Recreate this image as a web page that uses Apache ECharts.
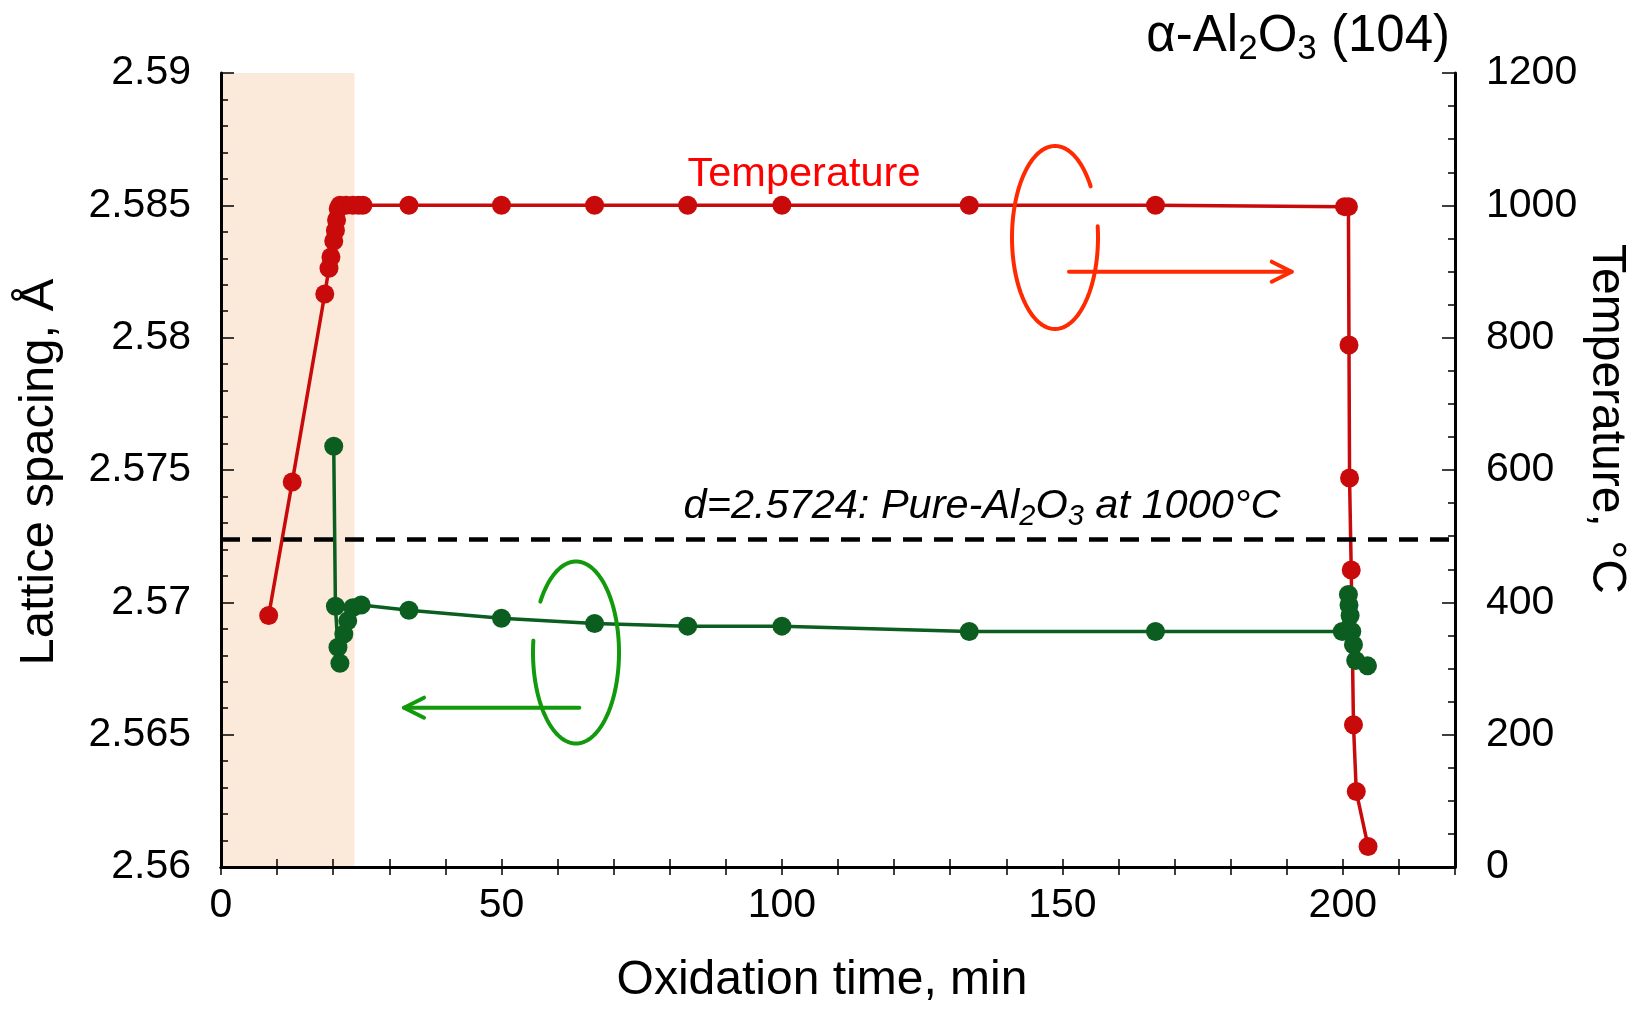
<!DOCTYPE html>
<html>
<head>
<meta charset="utf-8">
<script src="https://cdn.jsdelivr.net/npm/echarts@6/dist/echarts.min.js"></script>
<style>
html,body{margin:0;padding:0;background:#fff;overflow:hidden;}
#chart{width:1637px;height:1009px;}
</style>
</head>
<body>
<div id="chart"></div>
<script>
// ---------- data ----------
const tempTime = [8.5, 12.7, 18.5, 19.25, 19.6, 20.1, 20.4, 20.6, 20.9, 21.2, 22.3, 23.5, 24.5, 25.3, 33.5, 50, 66.6, 83.2, 100, 133.4, 166.6, 200.3, 201.0, 201.1, 201.2, 201.5, 201.9, 202.4, 204.5];
const tempValues = [380, 582, 866, 905, 922, 946, 962, 978, 995, 1000, 1000, 1000, 1000, 1000, 1000, 1000, 1000, 1000, 1000, 1000, 1000, 998, 998, 789, 588, 449, 215, 114, 31];

const latticeTime = [20.1, 20.4, 20.85, 21.2, 21.9, 22.6, 23.5, 25.0, 33.5, 50, 66.6, 83.2, 100, 133.4, 166.6, 199.9, 201.0, 201.1, 201.3, 201.6, 201.9, 202.3, 204.4];
const latticeValues = [2.5759, 2.56985, 2.5683, 2.5677, 2.5688, 2.5693, 2.5698, 2.5699, 2.5697, 2.5694, 2.5692, 2.5691, 2.5691, 2.5689, 2.5689, 2.5689, 2.5703, 2.5699, 2.5695, 2.5689, 2.5684, 2.5678, 2.5676];

const pureAl2O3Spacing = 2.5724;
const shadedRange = [0, 23.8];

const xTickLabels = [0, 50, 100, 150, 200];

// ---------- styling ----------
const FONT = "'Liberation Sans', Arial, Helvetica, sans-serif";
const RED = '#c80a0a';
const GREEN = '#0b5e1f';
const ANN_RED = '#ff2a00';
const ANN_GREEN = '#129a0c';

function zip(a, b) { return a.map((v, i) => [v, b[i]]); }

function ellipseArc(cx, cy, rx, ry, a0, a1) {
  const pts = [];
  for (let d = a0; d <= a1; d += 2) {
    const r = d * Math.PI / 180;
    pts.push([cx + rx * Math.cos(r), cy + ry * Math.sin(r)]);
  }
  const r = a1 * Math.PI / 180;
  pts.push([cx + rx * Math.cos(r), cy + ry * Math.sin(r)]);
  return pts;
}

const annStroke = (c) => ({ stroke: c, lineWidth: 4, fill: null, lineCap: 'round', lineJoin: 'round' });

function axisLine() { return { lineStyle: { color: '#000', width: 3 } }; }
function majorTick(len) { return { show: true, inside: true, length: len, lineStyle: { color: '#000', width: 1.5 } }; }
function minorTick(n) { return { show: true, splitNumber: n, length: 7, lineStyle: { color: '#000', width: 1.5 } }; }

const GRID = { left: 221, right: 182, top: 73, bottom: 142, outerBoundsMode: 'none' };

const chart = echarts.init(document.getElementById('chart'), null, { renderer: 'canvas' });

const option = {
  animation: false,
  backgroundColor: '#fff',
  grid: [Object.assign({}, GRID), Object.assign({}, GRID)],
  xAxis: [
    {
      type: 'value', gridIndex: 0, min: 0, max: 220, interval: 10, z: 10,
      axisLine: axisLine(),
      axisTick: majorTick(8),
      splitLine: { show: false },
      axisLabel: {
        color: '#000', fontSize: 41, fontFamily: FONT, margin: 18,
        formatter: (v) => (xTickLabels.indexOf(v) >= 0 ? String(v) : '')
      }
    },
    {
      type: 'value', gridIndex: 1, position: 'top', min: 0, max: 220, interval: 10, z: 10,
      axisLine: axisLine(),
      axisTick: majorTick(8),
      splitLine: { show: false },
      axisLabel: { show: false }
    }
  ],
  yAxis: [
    {
      type: 'value', gridIndex: 0, position: 'left', min: 2.56, max: 2.59, interval: 0.005, z: 10,
      axisLine: axisLine(),
      axisTick: majorTick(13),
      minorTick: minorTick(5),
      splitLine: { show: false },
      axisLabel: { color: '#000', fontSize: 41, fontFamily: FONT, margin: 30 }
    },
    {
      type: 'value', gridIndex: 0, position: 'right', min: 0, max: 1200, interval: 200, z: 10,
      axisLine: axisLine(),
      axisTick: majorTick(13),
      minorTick: minorTick(4),
      splitLine: { show: false },
      axisLabel: { color: '#000', fontSize: 41, fontFamily: FONT, margin: 31, formatter: (v) => String(v) }
    },
    { type: 'value', gridIndex: 1, show: false, min: 0, max: 1 }
  ],
  series: [
    {
      type: 'line', xAxisIndex: 0, yAxisIndex: 0, data: [], z: 1, silent: true,
      markArea: {
        silent: true,
        itemStyle: { color: '#fbe9da' },
        data: [[{ xAxis: shadedRange[0] }, { xAxis: shadedRange[1] }]]
      }
    },
    {
      name: 'Temperature', type: 'line', xAxisIndex: 0, yAxisIndex: 1,
      data: zip(tempTime, tempValues),
      symbol: 'circle', symbolSize: 19, z: 3,
      lineStyle: { color: RED, width: 3.5 },
      itemStyle: { color: RED }
    },
    {
      name: 'Lattice spacing', type: 'line', xAxisIndex: 0, yAxisIndex: 0,
      data: zip(latticeTime, latticeValues),
      symbol: 'circle', symbolSize: 19, z: 4,
      lineStyle: { color: GREEN, width: 3.5 },
      itemStyle: { color: GREEN },
      markLine: {
        silent: true, symbol: ['none', 'none'], precision: 4,
        label: { show: false },
        lineStyle: { color: '#000', width: 4.5, type: [19, 12] },
        data: [{ yAxis: pureAl2O3Spacing }]
      }
    }
  ],
  graphic: [
    // title
    {
      type: 'text', x: 1450, y: 37, z: 20,
      style: {
        text: '{m|α-Al}{s|2}{m|O}{s|3}{m| (104)}',
        align: 'right', verticalAlign: 'middle', fill: '#000',
        rich: {
          m: { fontSize: 51, fontFamily: FONT, lineHeight: 60, fill: '#000' },
          s: { fontSize: 35, fontFamily: FONT, lineHeight: 30, verticalAlign: 'bottom', fill: '#000' }
        }
      }
    },
    // axis names
    {
      type: 'text', x: 822, y: 981, z: 20,
      style: { text: 'Oxidation time, min', fontSize: 48, fontFamily: FONT, fill: '#000', align: 'center', verticalAlign: 'middle' }
    },
    {
      type: 'text', x: 39, y: 472, rotation: Math.PI / 2, z: 20,
      style: { text: 'Lattice spacing, Å', fontSize: 49, fontFamily: FONT, fill: '#000', align: 'center', verticalAlign: 'middle' }
    },
    {
      type: 'text', x: 1606, y: 419, rotation: -Math.PI / 2, z: 20,
      style: { text: 'Temperature, °C', fontSize: 48, fontFamily: FONT, fill: '#000', align: 'center', verticalAlign: 'middle' }
    },
    // temperature label
    {
      type: 'text', x: 804, y: 175, z: 20,
      style: { text: 'Temperature', fontSize: 41.5, fontFamily: FONT, fill: '#ff0000', align: 'center', verticalAlign: 'middle' }
    },
    // dashed line label
    {
      type: 'text', x: 982, y: 506, z: 20,
      style: {
        text: '{m|d=2.5724: Pure-Al}{s|2}{m|O}{s|3}{m| at 1000°C}',
        align: 'center', verticalAlign: 'middle', fill: '#000',
        rich: {
          m: { fontSize: 41.5, fontStyle: 'italic', fontFamily: FONT, lineHeight: 50, fill: '#000' },
          s: { fontSize: 29, fontStyle: 'italic', fontFamily: FONT, lineHeight: 25, verticalAlign: 'bottom', fill: '#000' }
        }
      }
    },
    // red loop + arrow
    { type: 'polyline', z: 15, shape: { points: ellipseArc(1055, 237.5, 43, 91.5, -7, 326) }, style: annStroke(ANN_RED) },
    { type: 'polyline', z: 15, shape: { points: [[1069, 271.7], [1291.7, 271.7]] }, style: annStroke(ANN_RED) },
    { type: 'polyline', z: 15, shape: { points: [[1271.7, 261.7], [1291.7, 271.7], [1271.7, 281.7]] }, style: annStroke(ANN_RED) },
    // green loop + arrow
    { type: 'polyline', z: 15, shape: { points: ellipseArc(576, 652.5, 43, 91, 214, 547.5) }, style: annStroke(ANN_GREEN) },
    { type: 'polyline', z: 15, shape: { points: [[579.3, 707.7], [404, 707.7]] }, style: annStroke(ANN_GREEN) },
    { type: 'polyline', z: 15, shape: { points: [[424, 697.7], [404, 707.7], [424, 717.7]] }, style: annStroke(ANN_GREEN) }
  ]
};

chart.setOption(option);
</script>
</body>
</html>
